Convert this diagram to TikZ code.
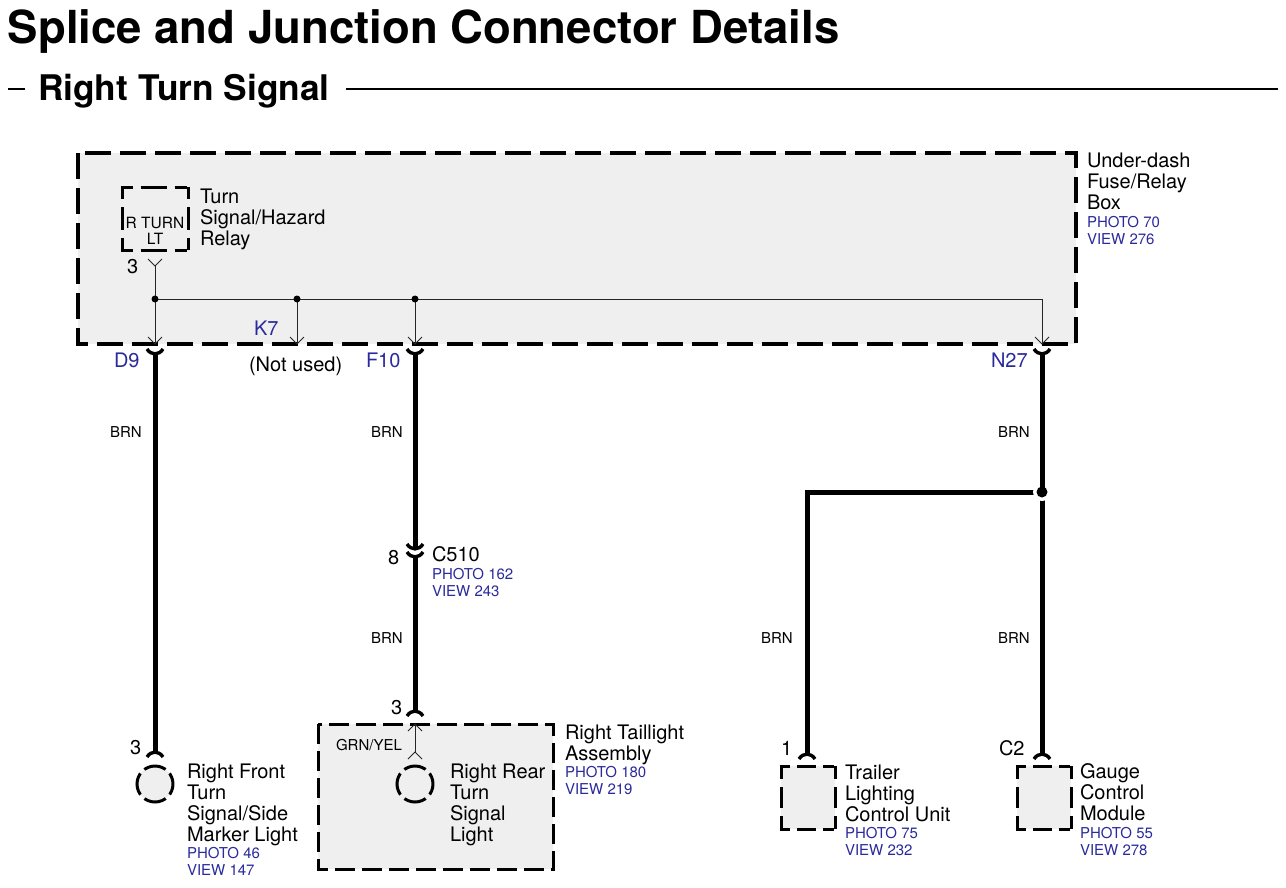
\documentclass[tikz,border=0pt]{standalone}
\usepackage{fontspec}
\setmainfont{TeX Gyre Heros}
\definecolor{wireblue}{HTML}{2A2A9C}
\definecolor{boxfill}{HTML}{EFEFEF}
\tikzset{
  px/.style={x=1pt,y=-1pt},
  lbl/.style={anchor=base west,inner sep=0pt,outer sep=0pt,font=\fontsize{20}{21}\selectfont,text=black},
  small/.style={lbl,font=\fontsize{15}{17}\selectfont},
  photo/.style={lbl,font=\fontsize{15}{17}\selectfont,text=wireblue},
  pinlbl/.style={lbl,text=wireblue},
  dashbox/.style={draw=black,fill=boxfill,line width=3.2pt,dash pattern=on 26pt off 9pt,line cap=butt},
  boxbg/.style={fill=boxfill},
  sideh/.style={draw=black,line width=3pt,dash pattern=on 12pt off 8pt on 26pt off 8pt on 12pt},
  sidev/.style={draw=black,line width=3pt,dash pattern=on 12pt off 8pt on 23pt off 8pt on 12pt},
  sidehs/.style={draw=black,line width=3pt,dash pattern=on 10.5pt off 7pt on 19pt off 7pt on 10.5pt},
  sidevs/.style={draw=black,line width=3pt,dash pattern=on 13pt off 8pt on 21pt off 8pt on 13pt},
  thick wire/.style={draw=black,line width=5pt},
  thin wire/.style={draw=black!85,line width=1pt},
  lamp/.style={circle,minimum size=36pt,inner sep=0pt,draw=black,fill=boxfill,line width=3pt,dash pattern=on 22.6pt off 5.67pt,dash phase=11.3pt},
  dotsm/.style={circle,fill=black,inner sep=0pt,minimum size=7pt},
  dotbg/.style={circle,fill=white,inner sep=0pt,minimum size=18pt},
  dotlg/.style={circle,fill=black,inner sep=0pt,minimum size=11pt},
  pics/tipdown/.style={code={\draw[thin wire] (-7,-7) -- (0,0) -- (7,-7);}},
  pics/tipup/.style={code={\draw[thin wire] (-7,7) -- (0,0) -- (7,7);}},
  pics/cupdown/.style={code={\draw[draw=black,line width=3.4pt] (-8,-5) .. controls (-4,1.5) and (4,1.5) .. (8,-5);}},
  pics/cupup/.style={code={\draw[draw=black,line width=3.4pt] (-8,5) .. controls (-4,-1.5) and (4,-1.5) .. (8,5);}},
}
\begin{document}
\begin{tikzpicture}[px]
\useasboundingbox (0,0) rectangle (1286,887);
% titles
\node[lbl,font=\bfseries\fontsize{45.5}{47}\selectfont] (title) at (8,43) {Splice and Junction Connector Details};
\node[lbl,font=\bfseries\fontsize{35.3}{37}\selectfont] (subtitle) at (38,100) {Right Turn Signal};
\coordinate (d1) at (8,89); \coordinate (d2) at (25,89);
\coordinate (r1) at (346,89); \coordinate (r2) at (1278,89);
\draw[line width=2.8pt] (d1) -- (d2);
\draw[line width=2.8pt] (r1) -- (r2);
% boxes
\path[dashbox] (78,153) rectangle (1076,344);
\path[dashbox,line width=3pt,dash pattern=on 20pt off 7pt] (318,724) rectangle (553,869);
% relay box
\path[boxbg] (122,187) rectangle (188,250);
\draw[sideh] (120.5,187) -- (189.5,187);
\draw[sideh] (120.5,250) -- (189.5,250);
\draw[sidev] (122,187) -- (122,250);
\draw[sidev] (188,187) -- (188,250);
% trailer box
\path[boxbg] (781,766) rectangle (835,829);
\draw[sidehs] (779.5,766) -- (836.5,766);
\draw[sidehs] (779.5,829) -- (836.5,829);
\draw[sidevs] (781,766) -- (781,829);
\draw[sidevs] (835,766) -- (835,829);
% gauge box
\path[boxbg] (1017,766) rectangle (1071,829);
\draw[sidehs] (1015.5,766) -- (1072.5,766);
\draw[sidehs] (1015.5,829) -- (1072.5,829);
\draw[sidevs] (1017,766) -- (1017,829);
\draw[sidevs] (1071,766) -- (1071,829);
\node[lamp] (lampf) at (155,784) {};
\node[lamp] (lampr) at (415,784) {};
% pins
\coordinate (relay3) at (155,266);
\coordinate (jd) at (155,299); \coordinate (jk) at (297,299); \coordinate (jf) at (415,299); \coordinate (jn) at (1042,299);
\coordinate (d9i) at (155,344); \coordinate (k7i) at (297,344); \coordinate (f10i) at (415,344); \coordinate (n27i) at (1042,344);
\coordinate (d9o) at (155,354); \coordinate (f10o) at (415,354); \coordinate (n27o) at (1042,354);
\coordinate (c510a) at (415,549); \coordinate (c510b) at (415,557);
\coordinate (r3o) at (415,711); \coordinate (r3i) at (415,724); \coordinate (r3l) at (415,752);
\coordinate (f3) at (155,752);
\coordinate (t1) at (807,754); \coordinate (c2) at (1042,754);
\coordinate (corner) at (807,492);
\node[dotlg,fill=none] (junc) at (1042,492) {};
% thin wires
\draw[thin wire] (relay3) -- (d9i);
\draw[thin wire] (jd) -- (jn) -- (n27i);
\draw[thin wire] (jk) -- (k7i);
\draw[thin wire] (jf) -- (f10i);
\draw[thin wire] (r3i) -- (r3l);
\node[dotsm] (dd) at (jd) {}; \node[dotsm] (dk) at (jk) {}; \node[dotsm] (df) at (jf) {};
\path (relay3) pic {tipdown};
\path (d9i) pic {tipdown}; \path (k7i) pic {tipdown}; \path (f10i) pic {tipdown}; \path (n27i) pic {tipdown};
\path (r3i) pic {tipup}; \path (r3l) pic {tipup};
% thick wires
\draw[thick wire] (d9o) -- (f3);
\draw[thick wire] (f10o) -- (c510a);
\draw[thick wire] (c510b) -- (r3o);
\draw[thick wire,line cap=butt] (junc.center) -- (corner) -- (t1);
\draw[thick wire] (junc.center) -- (c2);
\node[dotbg] (juncbg) at (junc) {};
\draw[thick wire] (n27o) -- (junc.center);
\node[dotlg] (juncdot) at (junc) {};
\path (d9o) pic {cupdown}; \path (f10o) pic {cupdown}; \path (n27o) pic {cupdown};
\path (c510a) pic {cupdown}; \path (c510b) pic {cupdown};
\path (r3o) pic {cupup}; \path (f3) pic {cupup}; \path (t1) pic {cupup}; \path (c2) pic {cupup};
% labels
\node[lbl,align=left] (udl) at (1087,209) {Under-dash\\Fuse/Relay\\Box};
\node[photo,align=left] (udp) at (1087,244) {PHOTO 70\\VIEW 276};
\node[lbl,align=left] (rel) at (200,245) {Turn\\Signal/Hazard\\Relay};
\node[lbl,anchor=base,font=\fontsize{15.5}{16}\selectfont,align=center] (rtl) at (155,244) {R TURN\\LT};
\node[lbl] (p3a) at (127,273) {3};
\node[pinlbl] (k7) at (254,335) {K7};
\node[pinlbl] (d9) at (114,367) {D9};
\node[pinlbl] (f10) at (366,367) {F10};
\node[pinlbl] (n27) at (991,367) {N27};
\node[lbl] (nu) at (249,371) {(Not used)};
\node[small] (b1) at (110,437) {BRN};
\node[small] (b2) at (371,437) {BRN};
\node[small] (b3) at (998,437) {BRN};
\node[small] (b4) at (371,643) {BRN};
\node[small] (b5) at (761,643) {BRN};
\node[small] (b6) at (998,643) {BRN};
\node[lbl] (p8) at (388,564) {8};
\node[lbl] (c510) at (432,561) {C510};
\node[photo,align=left] (c510p) at (432,596) {PHOTO 162\\VIEW 243};
\node[lbl] (p3b) at (391,714) {3};
\node[lbl] (p3c) at (130,754) {3};
\node[lbl] (p1) at (781,755) {1};
\node[lbl] (pc2) at (999,755) {C2};
\node[lbl,align=left] (rta) at (565,760) {Right Taillight\\Assembly};
\node[photo,align=left] (rtap) at (565,794) {PHOTO 180\\VIEW 219};
\node[small] (gy) at (336,750) {GRN/YEL};
\node[lbl,align=left] (rfl) at (187,841) {Right Front\\Turn\\Signal/Side\\Marker Light};
\node[photo,align=left] (rflp) at (187,875) {PHOTO 46\\VIEW 147};
\node[lbl,align=left] (rrl) at (450,841) {Right Rear\\Turn\\Signal\\Light};
\node[lbl,align=left] (tl) at (845,821) {Trailer\\Lighting\\Control Unit};
\node[photo,align=left] (tlp) at (845,855) {PHOTO 75\\VIEW 232};
\node[lbl,align=left] (gm) at (1080,820) {Gauge\\Control\\Module};
\node[photo,align=left] (gmp) at (1080,855) {PHOTO 55\\VIEW 278};
\end{tikzpicture}
\end{document}
